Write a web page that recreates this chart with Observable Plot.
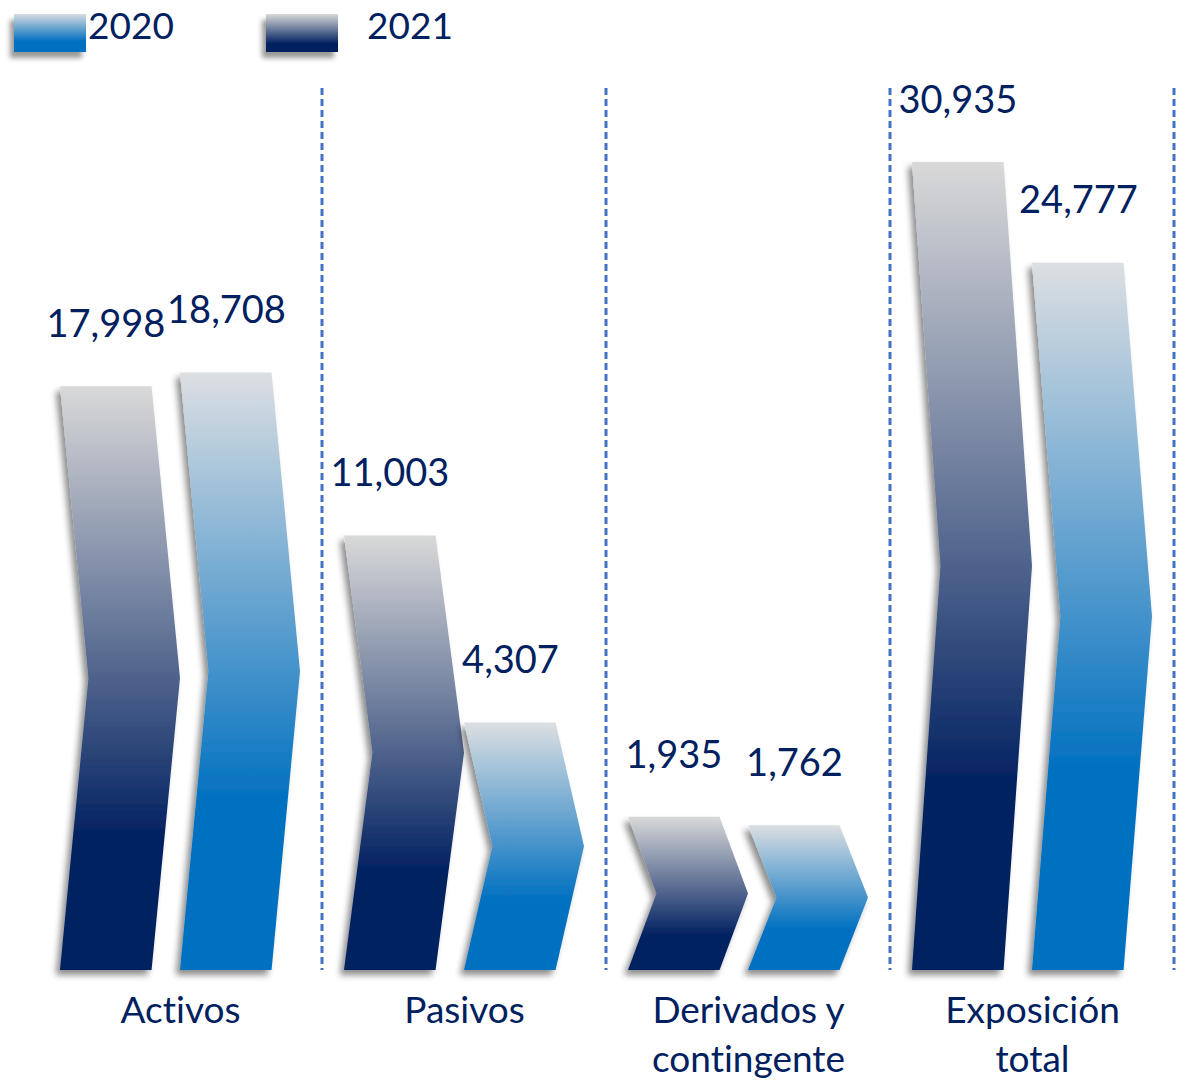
<!DOCTYPE html>
<html>
<head>
<meta charset="utf-8">
<script src="https://cdn.jsdelivr.net/npm/d3@7"></script>
<script src="https://cdn.jsdelivr.net/npm/@observablehq/plot@0.6"></script>
<style>
  body { margin: 0; background: #fff; }
  #legend { position: relative; width: 1179px; height: 70px; font-family: Lato, "Open Sans", sans-serif; font-size: 37px; color: #002060; font-variant-ligatures: none; }
  .sw { position: absolute; top: 14px; width: 72px; height: 38px; box-shadow: -4px 6px 5px rgba(0,0,0,0.4); }
  .lt { position: absolute; top: 6px; line-height: 37px; }
  #chart svg text { font-variant-ligatures: none; font-feature-settings: "liga" 0; }
</style>
</head>
<body>
<div id="legend"></div>
<div id="chart"></div>
<script>
// ---- data ----
const categories = ["Activos", "Pasivos", "Derivados y\ncontingente", "Exposición\ntotal"];
const values2021 = [17998, 11003, 1935, 30935];   // first (navy) bar of each group
const values2020 = [18708, 4307, 1762, 24777];    // second (blue) bar of each group
const barSeries = ["2021", "2020"];               // order within a group
const legendYears = ["2020", "2021"];

// ---- styles ----
const navy = "#002060", blue = "#0070c0", dashColor = "#4472c4";
const gradients = {
  "2021": [["0%", "#d9d9d9"], ["78%", navy], ["100%", navy]],
  "2020": [["0%", "#dcdfe2"], ["72%", blue], ["100%", blue]]
};
const cssGrad = {
  "2020": "linear-gradient(#d6dbe0 0%, #0070c0 72%)",
  "2021": "linear-gradient(#d9d9d9 0%, #002060 78%)"
};
const legendLayout = [{sw: 14, tx: 88}, {sw: 266, tx: 367}];

// ---- legend ----
const legend = document.getElementById("legend");
legendYears.forEach((yr, j) => {
  const s = document.createElement("div");
  s.className = "sw"; s.style.left = legendLayout[j].sw + "px"; s.style.background = cssGrad[yr];
  legend.appendChild(s);
  const t = document.createElement("div");
  t.className = "lt"; t.style.left = legendLayout[j].tx + "px"; t.textContent = yr;
  legend.appendChild(t);
});

// ---- table ----
const rows = categories.flatMap((c, i) => [
  {cat: c, series: barSeries[0], k: 0, value: values2021[i]},
  {cat: c, series: barSeries[1], k: 1, value: values2020[i]}
]);

const W = 1179, H = 1018, mL = 60, mR = 23, mT = 92, mB = 118, pI = 0.154;
const step = (W - mL - mR) / (categories.length - pI);
const half = step * (1 - pI) / 2;
const bodyFrac = 0.763;
const fmt = d3.format(",");

function chevrons(index, scales) {
  const g = d3.create("svg:g");
  const defs = g.append("defs");
  for (const [k, stops] of Object.entries(gradients)) {
    const lg = defs.append("linearGradient").attr("id", "grad" + k)
      .attr("x1", 0).attr("y1", 0).attr("x2", 0).attr("y2", 1);
    for (const [o, c] of stops) lg.append("stop").attr("offset", o).attr("stop-color", c);
  }
  const f = defs.append("filter").attr("id", "shadow")
    .attr("x", "-30%").attr("y", "-10%").attr("width", "160%").attr("height", "130%");
  f.append("feDropShadow").attr("dx", -4).attr("dy", 5).attr("stdDeviation", 3)
    .attr("flood-color", "#000").attr("flood-opacity", 0.45);
  const bw = scales.x.bandwidth(), h = bw / 2, w = h * bodyFrac, d = h - w;
  for (const i of index) {
    const r = rows[i];
    const L = scales.x(r.cat) + r.k * h;
    const T = scales.y(r.value), B = scales.y(0), M = (T + B) / 2;
    g.append("polygon")
      .attr("points", [[L, T], [L + w, T], [L + w + d, M], [L + w, B], [L, B], [L + d, M]].join(" "))
      .attr("fill", `url(#grad${r.series})`)
      .attr("filter", "url(#shadow)");
  }
  return g.node();
}

function separators(index, scales, values, dims) {
  const g = d3.create("svg:g");
  const bw = scales.x.bandwidth(), st = scales.x.step();
  const bottom = dims.height - dims.marginBottom;
  for (const i of index) {
    const x = scales.x(categories[i]) + bw + (st - bw) / 2;
    g.append("line").attr("x1", x).attr("x2", x).attr("y1", 18).attr("y2", bottom)
      .attr("stroke", dashColor).attr("stroke-width", 3).attr("stroke-dasharray", "7,4");
  }
  return g.node();
}

const textStyle = {fill: navy, fontSize: 38, fontFamily: "Lato, 'Open Sans', sans-serif"};

const chart = Plot.plot({
  width: W, height: H,
  marginLeft: mL, marginRight: mR, marginTop: mT, marginBottom: mB,
  style: {background: "#fff", overflow: "visible", fontFamily: "Lato, 'Open Sans', sans-serif"},
  x: {type: "band", domain: categories, paddingInner: pI, paddingOuter: 0, align: 0, axis: null},
  y: {type: "pow", exponent: 0.6, domain: [0, d3.max(rows, d => d.value)], axis: null},
  marks: [
    Plot.ruleX(categories, {x: d => d, render: separators}),
    Plot.barY(rows, {x: "cat", y1: 0, y2: "value", render: chevrons}),
    Plot.text(rows.filter(d => d.k === 0), {x: "cat", y: "value", text: d => fmt(d.value),
      dx: -(1 - bodyFrac / 2) * half, dy: -62, lineAnchor: "middle", ...textStyle}),
    Plot.text(rows.filter(d => d.k === 1), {x: "cat", y: "value", text: d => fmt(d.value),
      dx: (bodyFrac / 2) * half, dy: -62, lineAnchor: "middle", ...textStyle}),
    Plot.text(categories, {x: d => d, frameAnchor: "bottom", lineAnchor: "top", dy: 18,
      lineHeight: 1.32, text: d => d, ...textStyle, fontSize: 37})
  ]
});
document.getElementById("chart").appendChild(chart);
</script>
</body>
</html>
